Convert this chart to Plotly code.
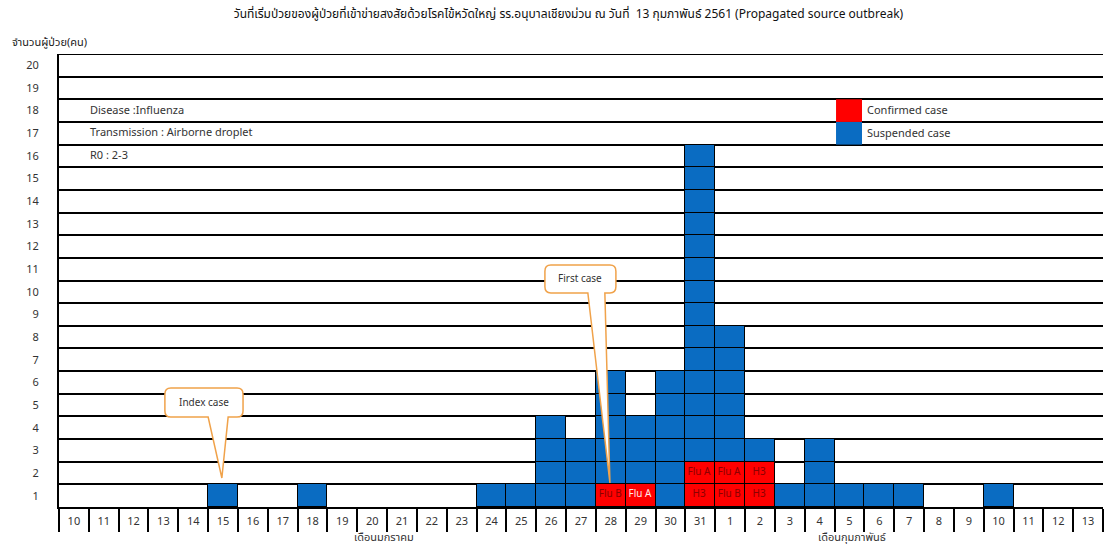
import plotly.graph_objects as go

# ---------------- data ----------------
days = ["10", "11", "12", "13", "14", "15", "16", "17", "18", "19", "20", "21", "22", "23",
        "24", "25", "26", "27", "28", "29", "30", "31",
        "1", "2", "3", "4", "5", "6", "7", "8", "9", "10", "11", "12", "13"]
suspected = [0, 0, 0, 0, 0, 1, 0, 0, 1, 0, 0, 0, 0, 0,
             1, 1, 4, 3, 5, 3, 6, 14,
             6, 1, 1, 3, 1, 1, 1, 0, 0, 1, 0, 0, 0]
# confirmed cases (bottom-up type labels) per day
confirmed = [[], [], [], [], [], [], [], [], [], [], [], [], [], [],
             [], [], [], [], ["Flu B"], ["Flu A"], [], ["H3", "Flu A"],
             ["Flu B", "Flu A"], ["H3", "H3"], [], [], [], [], [], [], [], [], [], [], []]
y_ticks = list(range(1, 21))
months = ["เดือนมกราคม", "เดือนกุมภาพันธ์"]
month_pos = [10.4, 26.1]
info_lines = ["Disease :Influenza", "Transmission : Airborne droplet", "R0 : 2-3"]
legend_names = ["Confirmed case", "Suspended case"]
title = ("วันที่เริ่มป่วยของผู้ป่วยที่เข้าข่ายสงสัยด้วยโรคไข้หวัดใหญ่ รร.อนุบาลเชียงม่วน ณ วันที่  13 กุมภาพันธ์ 2561 "
         "(Propagated source outbreak)")

RED = "#FF0000"
BLUE = "#0A6CC2"
FONT = "Tahoma, 'Noto Sans Thai', 'Noto Sans', 'DejaVu Sans', sans-serif"

fig = go.Figure()

totals = [len(c) + s for c, s in zip(confirmed, suspected)]
max_level = max(totals)
for k in range(1, max_level + 1):
    xs, cols, texts, tcols = [], [], [], []
    for i, tot in enumerate(totals):
        if tot >= k:
            xs.append(i)
            if k <= len(confirmed[i]):
                cols.append(RED)
                texts.append(confirmed[i][k - 1])
                tcols.append("#FFE8E8" if days[i] == "29" else "#8B0000")
            else:
                cols.append(BLUE)
                texts.append("")
                tcols.append("white")
    fig.add_trace(go.Bar(
        x=xs, y=[1] * len(xs), width=1,
        marker=dict(color=cols, line=dict(color="black", width=1.5)),
        text=texts, textposition="inside", insidetextanchor="end" if k == 1 else "middle",
        textangle=0, textfont=dict(size=10, color=tcols, family=FONT),
        showlegend=False, hoverinfo="skip"))

fig.update_layout(
    width=1107, height=546,
    margin=dict(l=59, r=4, t=54, b=39),
    barmode="stack", bargap=0,
    plot_bgcolor="white", paper_bgcolor="white",
    font=dict(family=FONT, size=11, color="#333333"),
    title=dict(text=title, x=0.488, xanchor="center", xref="paper",
               y=1 - 14 / 546, yref="container", yanchor="middle",
               font=dict(size=12, color="#111111", family=FONT)),
    uniformtext=dict(minsize=9, mode="show"),
)

fig.update_xaxes(
    range=[-0.5, len(days) - 0.5],
    tickmode="array", tickvals=list(range(len(days))), ticktext=days,
    ticks="", showgrid=False, zeroline=False,
    showline=True, linecolor="black", linewidth=2,
    ticklabelstandoff=3,
    tickfont=dict(size=11, color="#333333"),
    minor=dict(tick0=-0.5, dtick=1, ticks="outside", ticklen=23,
               tickwidth=2, tickcolor="black", showgrid=False),
)
fig.update_yaxes(
    range=[0, 20],
    tickmode="array", tickvals=[v - 0.5 for v in y_ticks], ticktext=[str(v) for v in y_ticks],
    ticks="", showgrid=False, zeroline=False,
    showline=True, linecolor="black", linewidth=2,
    ticklabelstandoff=16,
    tickfont=dict(size=11, color="#333333"),
    minor=dict(tick0=0, dtick=1, ticks="", showgrid=True, gridcolor="black", gridwidth=1.8),
)

# top border line (y=20)
fig.add_shape(type="line", xref="paper", yref="y", x0=0, x1=1, y0=20, y1=20,
              line=dict(color="black", width=1.8), layer="below")

# y label "0" in the day-label row
fig.add_annotation(text="0", xref="paper", yref="y", x=-25 / 1044, y=-0.5,
                   xanchor="right", yanchor="middle", showarrow=False,
                   font=dict(size=11, color="#333333"))
# y axis title
fig.add_annotation(text="จำนวนผู้ป่วย(คน)", xref="paper", yref="paper",
                   x=-49 / 1044, y=1 + 12 / 453, xanchor="left", yanchor="middle",
                   showarrow=False, font=dict(size=11, color="#222222"))
# month labels
for m, p in zip(months, month_pos):
    fig.add_annotation(text=m, xref="x", yref="paper", x=p, y=-30 / 453,
                       xanchor="center", yanchor="middle", showarrow=False,
                       font=dict(size=11, color="#333333"))
# info lines
for t, yv in zip(info_lines, [17.5, 16.55, 15.5]):
    fig.add_annotation(text=t, xref="x", yref="y", x=0.47, y=yv,
                       xanchor="left", yanchor="middle", showarrow=False,
                       font=dict(size=11, color="#333333"))
# legend squares + labels
for name, col, yb in zip(legend_names, [RED, BLUE], [17, 16]):
    fig.add_shape(type="rect", xref="x", yref="y", x0=25.55, x1=26.42, y0=yb, y1=yb + 1,
                  fillcolor=col, line=dict(width=0))
    fig.add_annotation(text=name, xref="x", yref="y", x=26.52, y=yb + 0.5,
                       xanchor="left", yanchor="middle", showarrow=False,
                       font=dict(size=11, color="#333333"))


def callout(x0, x1, y0, y1, bx0, bx1, tx, ty, rx=0.2, ry=0.27):
    return (f"M {x0 + rx},{y1} L {x1 - rx},{y1} Q {x1},{y1} {x1},{y1 - ry} "
            f"L {x1},{y0 + ry} Q {x1},{y0} {x1 - rx},{y0} L {bx1},{y0} L {tx},{ty} "
            f"L {bx0},{y0} L {x0 + rx},{y0} Q {x0},{y0} {x0},{y0 + ry} "
            f"L {x0},{y1 - ry} Q {x0},{y1} {x0 + rx},{y1} Z")


ORANGE = "#F0A24A"
fig.add_shape(type="path", xref="x", yref="y",
              path=callout(3.05, 5.67, 3.97, 5.25, 4.5, 5.17, 4.96, 1.28),
              fillcolor="white", line=dict(color=ORANGE, width=1.5))
fig.add_annotation(text="Index case", xref="x", yref="y", x=4.36, y=4.6,
                   showarrow=False, font=dict(size=10, color="#333333"))
fig.add_shape(type="path", xref="x", yref="y",
              path=callout(15.79, 18.17, 9.45, 10.68, 17.23, 17.8, 17.97, 1.06),
              fillcolor="white", line=dict(color=ORANGE, width=1.5))
fig.add_annotation(text="First case", xref="x", yref="y", x=16.97, y=10.07,
                   showarrow=False, font=dict(size=10, color="#333333"))

fig.write_html("out.html", config={"displayModeBar": False},
               post_script="document.body.style.margin='0';document.body.style.padding='0';")
